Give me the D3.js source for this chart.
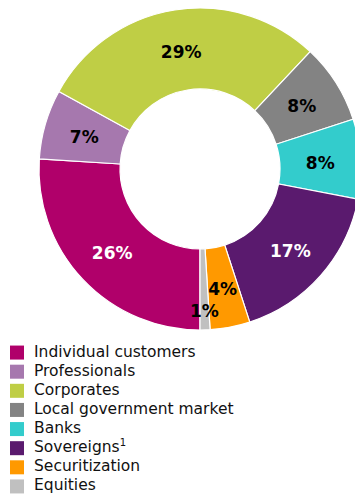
<!DOCTYPE html>
<meta charset="utf-8">
<head>
  <title>Exposure by counterparty</title>
</head>
<body>
<style>
  html, body {
    margin: 0;
    padding: 0;
    background: #fff;
  }

  * {
    font-family: "DejaVu Sans", Verdana, sans-serif;
  }

  .slices path {
    stroke: #fff;
    stroke-width: 1.2px;
  }

  .labels text {
    font-weight: bold;
    font-size: 17px;
    text-anchor: middle;
    dominant-baseline: central;
  }

  .legend text {
    font-size: 15.5px;
    fill: #111;
    dominant-baseline: central;
  }
</style>
<div class="chart"></div>
<script src="https://cdn.jsdelivr.net/npm/d3@7/dist/d3.min.js"></script>
<script>

var categories = ["Individual customers", "Professionals", "Corporates", "Local government market",
                  "Banks", "Sovereigns", "Securitization", "Equities"];
var shares = [26, 7, 29, 8, 8, 17, 4, 1];
var colors = ["#b0006a", "#a678ae", "#bfce45", "#838383", "#33cccc", "#5a1a6e", "#ff9900", "#c0c0c0"];
var labelColors = ["#fff", "#000", "#000", "#000", "#000", "#fff", "#000", "#000"];
var footnotes = ["", "", "", "", "", "1", "", ""];

var width = 355,
    height = 494,
    cx = 200,
    cy = 169,
    outer = 161,
    inner = 80;

var svg = d3.select(".chart").append("svg")
    .attr("width", width)
    .attr("height", height);

var data = categories.map(function(c, i) {
  return {name: c, value: shares[i], color: colors[i], label: labelColors[i], note: footnotes[i]};
});

// first slice starts at 6 o'clock and runs clockwise, like the office chart
var pie = d3.pie()
    .sort(null)
    .value(function(d) { return d.value; })
    .startAngle(Math.PI)
    .endAngle(3 * Math.PI);

var arc = d3.arc()
    .innerRadius(inner)
    .outerRadius(outer);

var arcs = pie(data);

var g = svg.append("g")
    .attr("transform", "translate(" + cx + "," + cy + ")");

g.append("g")
    .attr("class", "slices")
  .selectAll("path")
    .data(arcs)
  .enter().append("path")
    .attr("fill", function(d) { return d.data.color; })
    .attr("d", arc);

// tiny slice gets its label pushed outward so it does not collide
var labelArc = d3.arc().innerRadius(inner).outerRadius(outer);
var outArc = d3.arc().innerRadius(140).outerRadius(140);

g.append("g")
    .attr("class", "labels")
  .selectAll("text")
    .data(arcs)
  .enter().append("text")
    .attr("transform", function(d) {
      var c = d.data.value < 2 ? outArc.centroid(d) : labelArc.centroid(d);
      return "translate(" + c[0] + "," + (c[1] + 2) + ")";
    })
    .attr("fill", function(d) { return d.data.label; })
    .text(function(d) { return d.data.value + "%"; });

// legend
var legendY = d3.scaleBand()
    .domain(categories)
    .range([343, 496]);

var legend = svg.append("g")
    .attr("class", "legend")
  .selectAll("g")
    .data(data)
  .enter().append("g")
    .attr("transform", function(d) {
      return "translate(10," + (legendY(d.name) + legendY.bandwidth() / 2) + ")";
    });

legend.append("rect")
    .attr("y", -7)
    .attr("width", 14)
    .attr("height", 14)
    .attr("fill", function(d) { return d.color; });

var lt = legend.append("text")
    .attr("x", 24)
    .attr("y", -1);

lt.append("tspan").text(function(d) { return d.name; });
lt.filter(function(d) { return d.note; })
  .append("tspan")
    .attr("dy", -5)
    .style("font-size", "10px")
    .text(function(d) { return d.note; });

</script>
</body>
